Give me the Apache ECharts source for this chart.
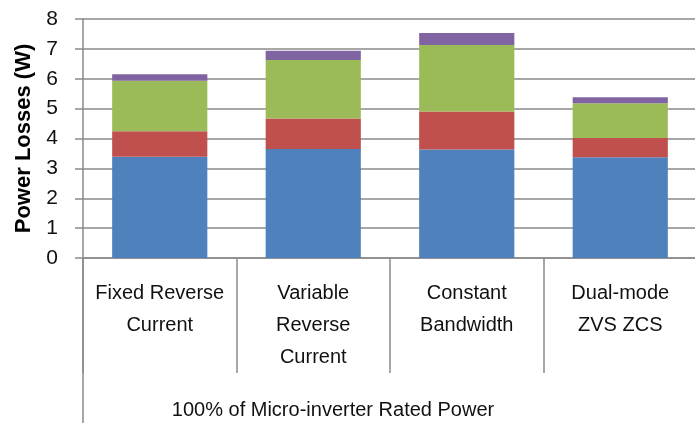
<!DOCTYPE html>
<html>
<head>
<meta charset="utf-8">
<script src="https://cdn.jsdelivr.net/npm/echarts@6/dist/echarts.min.js"></script>
<style>
  html, body { margin: 0; padding: 0; background: #fff; }
  #chart { width: 695px; height: 423px; }
</style>
</head>
<body>
<div id="chart"></div>
<script>
// data
var categories = ['Fixed Reverse\nCurrent', 'Variable\nReverse\nCurrent', 'Constant\nBandwidth', 'Dual-mode\nZVS ZCS'];
var blueVals = [3.39, 3.65, 3.63, 3.37];
var redVals = [0.85, 1.02, 1.27, 0.65];
var greenVals = [1.69, 1.96, 2.23, 1.16];
var purpleVals = [0.22, 0.31, 0.40, 0.20];
var yTicks = [0, 1, 2, 3, 4, 5, 6, 7, 8];
var groupLabel = '100% of Micro-inverter Rated Power';

var font = '"Liberation Sans", Arial, sans-serif';
var gridGray = '#8a8a8a';

var chart = echarts.init(document.getElementById('chart'));

function barSeries(name, data, color) {
    return {
        name: name,
        type: 'bar',
        stack: 'loss',
        barWidth: '62%',
        data: data,
        itemStyle: { color: color },
        emphasis: { disabled: true }
    };
}

var option = {
    animation: false,
    textStyle: { fontFamily: font },
    grid: {
        left: 83,
        top: 19,
        right: -2,
        bottom: 165,
        containLabel: false,
        outerBoundsMode: 'none'
    },
    xAxis: {
        type: 'category',
        data: categories,
        boundaryGap: true,
        axisLine: { show: true, lineStyle: { color: gridGray, width: 1.5 } },
        axisTick: {
            show: true,
            length: 115,
            lineStyle: { color: gridGray, width: 1.5 }
        },
        axisLabel: {
            margin: 19,
            fontSize: 20,
            lineHeight: 32,
            color: '#111',
            fontFamily: font,
            interval: 0
        },
        splitLine: { show: false }
    },
    yAxis: {
        type: 'value',
        min: yTicks[0],
        max: yTicks[yTicks.length - 1],
        interval: 1,
        name: 'Power Losses (W)',
        nameLocation: 'middle',
        nameGap: 48,
        nameTextStyle: {
            fontSize: 22,
            fontWeight: 'bold',
            color: '#000',
            fontFamily: font
        },
        axisLine: { show: true, lineStyle: { color: gridGray, width: 1.5 } },
        axisTick: {
            show: true,
            length: 8,
            lineStyle: { color: gridGray, width: 1.5 }
        },
        axisLabel: {
            margin: 25,
            fontSize: 21,
            color: '#111',
            fontFamily: font
        },
        splitLine: { show: true, lineStyle: { color: gridGray, width: 1.5 } }
    },
    graphic: [
        {
            type: 'line',
            shape: { x1: 83, y1: 258, x2: 83, y2: 423 },
            style: { stroke: gridGray, lineWidth: 1.5 },
            silent: true
        },
        {
            type: 'text',
            x: 333,
            y: 410,
            style: {
                text: groupLabel,
                fontSize: 20,
                fontFamily: font,
                fill: '#111',
                textAlign: 'center',
                textVerticalAlign: 'middle'
            },
            silent: true
        }
    ],
    series: [
        barSeries('s1', blueVals, '#4F81BD'),
        barSeries('s2', redVals, '#C0504D'),
        barSeries('s3', greenVals, '#9BBB59'),
        barSeries('s4', purpleVals, '#8064A2')
    ]
};

chart.setOption(option);
</script>
</body>
</html>
